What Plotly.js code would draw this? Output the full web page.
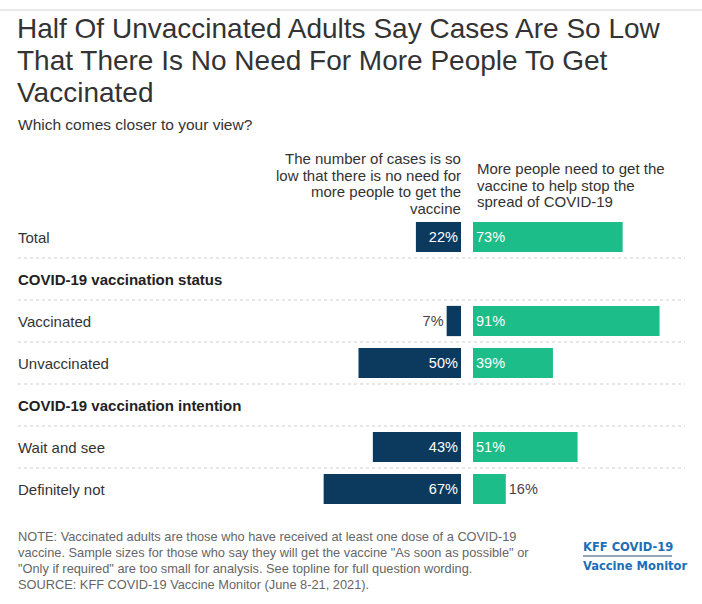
<!DOCTYPE html>
<html>
<head>
<meta charset="utf-8">
<script src="https://cdn.plot.ly/plotly-3.0.1.min.js"></script>
<style>html,body{margin:0;padding:0;background:#fff;}#chart{width:702px;height:604px;}</style>
</head>
<body>
<div id="chart"></div>
<script>
const rows = ["Total", "COVID-19 vaccination status", "Vaccinated", "Unvaccinated", "COVID-19 vaccination intention", "Wait and see", "Definitely not"];
const headerRows = ["COVID-19 vaccination status", "COVID-19 vaccination intention"];
const noNeed = [22, null, 7, 50, null, 43, 67];
const moreNeed = [73, null, 91, 39, null, 51, 16];
const noNeedHeader = ["The number of cases is so", "low that there is no need for", "more people to get the", "vaccine"];
const moreNeedHeader = ["More people need to get the", "vaccine to help stop the", "spread of COVID-19"];
const titleLines = ["Half Of Unvaccinated Adults Say Cases Are So Low", "That There Is No Need For More People To Get", "Vaccinated"];
const subtitle = "Which comes closer to your view?";
const noteLines = [
  "NOTE: Vaccinated adults are those who have received at least one dose of a COVID-19",
  "vaccine. Sample sizes for those who say they will get the vaccine \"As soon as possible\" or",
  "\"Only if required\" are too small for analysis. See topline for full question wording.",
  "SOURCE: KFF COVID-19 Vaccine Monitor (June 8-21, 2021)."
];
const logoLines = ["KFF COVID-19", "Vaccine Monitor"];

const W = 702, H = 604;
const plotTop = 216, plotBottom = 510;
const pxPerPct = 2.05;
const leftEnd = 461, rightStart = 473;
const navy = "#0c3a5e", green = "#1dbd89";
const fontFam = "Liberation Sans, Arial, sans-serif";
const logoFam = "DejaVu Sans Condensed, Roboto Condensed, sans-serif";

// convert a pixel position on the page to paper coordinates
function px(x){ return x / W; }
function py(y){ return (plotBottom - y) / (plotBottom - plotTop); }

function labels(arr){ return arr.map(v => v == null ? "" : v + "%"); }
function positions(arr){ return arr.map(v => (v != null && v * pxPerPct < 36) ? "outside" : "inside"); }

function barTrace(vals, axis, color){
  return {
    type: "bar", orientation: "h", y: rows, x: vals, xaxis: axis, yaxis: "y",
    marker: {color: color, line: {width: 0}}, width: 0.72,
    text: labels(vals), textposition: positions(vals), insidetextanchor: "start",
    insidetextfont: {color: "#fff", size: 14.5, family: fontFam},
    outsidetextfont: {color: "#444", size: 14.5, family: fontFam},
    constraintext: "none", textangle: 0, cliponaxis: false, hoverinfo: "skip", showlegend: false
  };
}

const annotations = [];
function addText(text, x, y, xanchor, size, color, fam){
  annotations.push({xref: "paper", yref: "paper", x: x, y: y, xanchor: xanchor, yanchor: "middle",
    text: text, showarrow: false, font: {size: size, color: color, family: fam || fontFam}});
}

rows.forEach(r => {
  const isH = headerRows.includes(r);
  annotations.push({
    xref: "paper", yref: "y", x: px(16), y: r, xanchor: "left", yanchor: "middle",
    text: isH ? "<b>" + r + "</b>" : r, showarrow: false,
    font: {size: 15, color: isH ? "#222" : "#333", family: fontFam}
  });
});
titleLines.forEach((t, i) => addText(t, px(15), py(28 + i * 32), "left", 28, "#333"));
addText(subtitle, px(16), py(124), "left", 15.5, "#333");
noNeedHeader.forEach((t, i) => addText(t, px(leftEnd + 2), py(159 + i * 16.5), "right", 15, "#333"));
moreNeedHeader.forEach((t, i) => addText(t, px(rightStart + 2), py(169 + i * 16.5), "left", 15, "#333"));
noteLines.forEach((t, i) => addText(t, px(16), py(536 + i * 16), "left", 12.8, "#666"));
logoLines.forEach((t, i) => addText("<b>" + t + "</b>", px(581), py(546 + i * 19), "left", 12.8, "#1a6fb8", logoFam));

const shapes = [];
for (let i = 0; i < rows.length - 1; i++) {
  shapes.push({type: "line", xref: "paper", yref: "y", x0: px(18), x1: px(685), y0: i + 0.5, y1: i + 0.5,
    line: {color: "#cfcfcf", width: 1, dash: "dot"}});
}
shapes.push({type: "line", xref: "paper", yref: "paper", x0: 0, x1: 1, y0: py(10), y1: py(10),
  line: {color: "#e2e2e2", width: 1.5}});
shapes.push({type: "line", xref: "paper", yref: "paper", x0: px(583), x1: px(672), y0: py(556), y1: py(556),
  line: {color: "#2a4d6e", width: 1}});

const layout = {
  width: W, height: H,
  margin: {l: 0, r: 0, t: plotTop, b: H - plotBottom, pad: 0},
  paper_bgcolor: "#fff", plot_bgcolor: "#fff",
  xaxis: {domain: [0, leftEnd / W], range: [leftEnd / pxPerPct, 0], visible: false, fixedrange: true},
  xaxis2: {domain: [rightStart / W, 1], range: [0, (W - rightStart) / pxPerPct], visible: false, fixedrange: true, anchor: "y"},
  yaxis: {type: "category", categoryarray: rows, categoryorder: "array", range: [6.5, -0.5],
    showticklabels: false, showgrid: false, zeroline: false, showline: false, fixedrange: true},
  barmode: "overlay",
  annotations: annotations,
  shapes: shapes,
  showlegend: false
};

Plotly.newPlot("chart", [barTrace(noNeed, "x", navy), barTrace(moreNeed, "x2", green)], layout, {displayModeBar: false, staticPlot: true});
</script>
</body>
</html>
